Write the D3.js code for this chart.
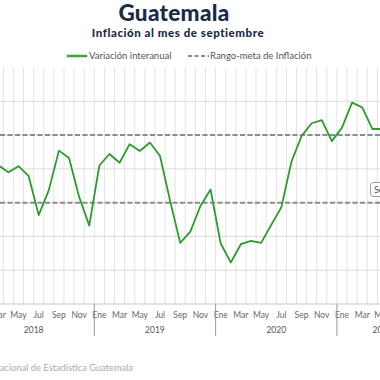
<!DOCTYPE html>
<html><head><meta charset="utf-8">
<script src="https://cdn.jsdelivr.net/npm/d3@7"></script>
<style>body{margin:0;background:#fff}svg{display:block}</style>
</head><body>
<script>
const years = ["2018","2019","2020","2021"];
const monthNames = ["Ene","Feb","Mar","Abr","May","Jun","Jul","Ago","Sep","Oct","Nov","Dic"];
const monthLabelsShown = ["Ene","Mar","May","Jul","Sep","Nov"];
const lastMonthIndex2021 = 8; // septiembre
const startData = "2018-03";
const values = [4.11,3.90,4.08,3.79,2.63,3.37,4.54,4.32,3.17,2.32,
  4.10,4.44,4.18,4.73,4.53,4.78,4.38,3.05,1.81,2.14,2.90,3.39,
  1.79,1.23,1.77,1.87,1.81,2.34,2.86,4.21,4.97,5.35,5.44,4.82,
  5.22,5.96,5.82,5.18,5.18];
const targetBand = [3,5];
const yTicks = [0,1,2,3,4,5,6,7];
const title = "Guatemala";
const subtitle = "Inflación al mes de septiembre";
const legendLabels = ["Variación interanual","Rango-meta de Inflación"];
const source = "Fuente: Instituto Nacional de Estadística Guatemala";
const boxLabel = "Sep 2021";

const months = [];
years.forEach((y,yi)=>{
  const n = (yi===years.length-1)? lastMonthIndex2021+1 : 12;
  for(let m=0;m<n;m++) months.push({key:y+"-"+String(m+1).padStart(2,"0"), year:y, m});
});
const keys = months.map(d=>d.key);
const s0 = keys.indexOf(startData);
const series = values.map((v,i)=>({key:keys[s0+i], v}));

const W=380,H=380;
const svg = d3.select("body").append("svg").attr("width",W).attr("height",H);
const x = d3.scaleBand().domain(keys).range([-27,427.9]).padding(0);
const y = d3.scaleLinear().domain([0,7]).range([304,67.5]);
const font = "Lato, 'Open Sans', sans-serif";

// vertical gridlines at band boundaries
svg.append("g").selectAll("line").data(keys).join("line")
  .attr("x1",d=>x(d)).attr("x2",d=>x(d)).attr("y1",y(7)).attr("y2",y(0))
  .attr("stroke","#e3e3e3").attr("stroke-width",1);
// horizontal gridlines
svg.append("g").selectAll("line").data(yTicks.filter(t=>t>0&&t<7)).join("line")
  .attr("x1",0).attr("x2",W).attr("y1",d=>y(d)).attr("y2",d=>y(d))
  .attr("stroke","#dcdcdc").attr("stroke-width",1);
// axis baseline
svg.append("line").attr("x1",0).attr("x2",W).attr("y1",y(0)).attr("y2",y(0))
  .attr("stroke","#c8c8c8").attr("stroke-width",1);

// month labels
svg.append("g").selectAll("text").data(months.filter(d=>monthLabelsShown.includes(monthNames[d.m]))).join("text")
  .attr("x",d=>x(d.key)+x.bandwidth()/2).attr("y",317.5)
  .attr("text-anchor","middle").attr("font-family",font).attr("font-size",8.5)
  .attr("fill","#666").text(d=>monthNames[d.m]);
// year separators and labels
years.forEach((yr,i)=>{
  const ks = months.filter(d=>d.year===yr).map(d=>d.key);
  const x0 = x(ks[0]), x1 = x(ks[ks.length-1])+x.bandwidth();
  if(i>0) svg.append("line").attr("x1",x0).attr("x2",x0).attr("y1",y(0)).attr("y2",336)
    .attr("stroke","#999").attr("stroke-width",1);
  svg.append("text").attr("x",(x0+x1)/2).attr("y",332.5).attr("text-anchor","middle")
    .attr("font-family",font).attr("font-size",8.5).attr("fill","#555").text(yr);
});

// target dashed lines
svg.append("g").selectAll("line").data(targetBand).join("line")
  .attr("x1",0).attr("x2",W).attr("y1",d=>y(d)).attr("y2",d=>y(d))
  .attr("stroke","#8c8c8c").attr("stroke-width",2).attr("stroke-dasharray","5,2.5");

// line
const line = d3.line().x(d=>x(d.key)+x.bandwidth()/2).y(d=>y(d.v));
svg.append("path").datum(series).attr("d",line).attr("fill","none")
  .attr("stroke","#2e9b2e").attr("stroke-width",1.8).attr("stroke-linejoin","round");

// label box at right
const bx = svg.append("g");
bx.append("rect").attr("x",370.5).attr("y",182.5).attr("width",60).attr("height",14).attr("rx",3)
  .attr("fill","#fff").attr("stroke","#999").attr("stroke-width",1);
bx.append("text").attr("x",374).attr("y",193).attr("font-family",font).attr("font-size",9)
  .attr("fill","#555").text(boxLabel);

// title
svg.append("text").attr("x",174).attr("y",20.5).attr("text-anchor","middle")
  .attr("font-family",font).attr("font-weight",900).attr("font-size",22.5).attr("letter-spacing",0.3).attr("fill","#1b2a48").text(title);
svg.append("text").attr("x",178).attr("y",37).attr("text-anchor","middle")
  .attr("font-family",font).attr("font-weight",900).attr("font-size",11.5).attr("letter-spacing",0.55).attr("fill","#1b2a48").text(subtitle);

// legend
svg.append("line").attr("x1",66.7).attr("x2",87.3).attr("y1",56).attr("y2",56).attr("stroke","#3aa53a").attr("stroke-width",2.5);
svg.append("text").attr("x",89).attr("y",59).attr("font-family",font).attr("font-size",9.5).attr("fill","#555").text(legendLabels[0]);
svg.append("line").attr("x1",188).attr("x2",209).attr("y1",56).attr("y2",56).attr("stroke","#8c8c8c").attr("stroke-width",2).attr("stroke-dasharray","4,2.5");
svg.append("text").attr("x",210).attr("y",59).attr("font-family",font).attr("font-size",9.5).attr("fill","#555").text(legendLabels[1]);

// source
svg.append("text").attr("x",133).attr("y",371).attr("text-anchor","end").attr("font-family",font)
  .attr("font-size",9.3).attr("fill","#aaa").text(source);
</script>
</body></html>
